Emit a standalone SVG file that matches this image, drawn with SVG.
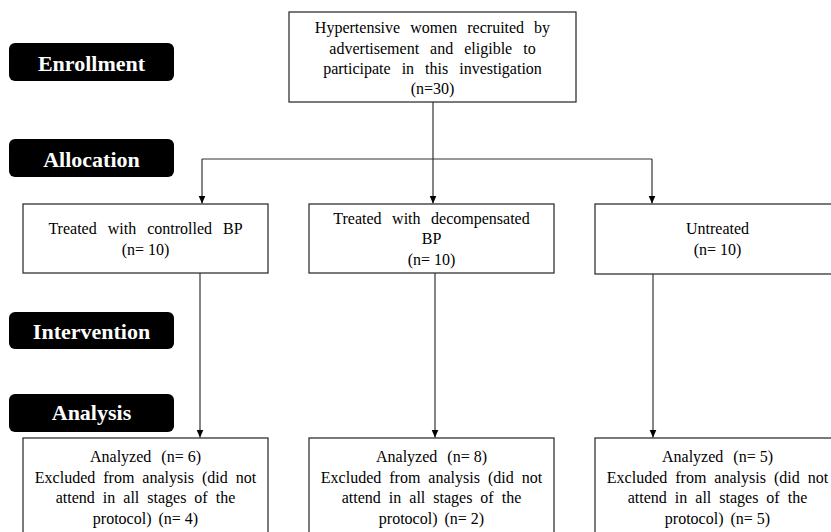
<svg xmlns="http://www.w3.org/2000/svg" width="831" height="532" viewBox="0 0 831 532">
<style>
.bg{fill:#ffffff}
.stage rect{fill:#000000}
.stage text{fill:#ffffff;font-family:"Liberation Serif","Times New Roman",serif;font-weight:bold;font-size:22px;text-anchor:middle}
.node rect{fill:#ffffff;stroke:#333333;stroke-width:1.3}
.node text{fill:#000000;font-family:"Liberation Serif","Times New Roman",serif;font-size:16px;text-anchor:middle;word-spacing:5px}
.node text.n{word-spacing:0}
.conn path{fill:none;stroke:#333333;stroke-width:1.2}
</style>
<defs>
<marker id="arr" markerWidth="8" markerHeight="8" refX="8" refY="3.5" orient="auto" markerUnits="userSpaceOnUse">
<path d="M0,0 L8,3.5 L0,7 Z" fill="#000000"/>
</marker>
</defs>
<rect class="bg" x="0" y="0" width="831" height="532"/>

<g id="stage-enrollment" class="stage">
<rect x="9" y="43" width="165" height="38" rx="6"/>
<text x="91.5" y="70.5">Enrollment</text>
</g>
<g id="stage-allocation" class="stage">
<rect x="9" y="139" width="165" height="38" rx="6"/>
<text x="91.5" y="166.5">Allocation</text>
</g>
<g id="stage-intervention" class="stage">
<rect x="9" y="312" width="165" height="37" rx="6"/>
<text x="91.5" y="338.5">Intervention</text>
</g>
<g id="stage-analysis" class="stage">
<rect x="9" y="394" width="165" height="38" rx="6"/>
<text x="91.5" y="420">Analysis</text>
</g>

<g id="connectors" class="conn">
<path d="M433,102 V203.5" marker-end="url(#arr)"/>
<path d="M202,159 H652"/>
<path d="M202,159 V203.5" marker-end="url(#arr)"/>
<path d="M652,159 V203.5" marker-end="url(#arr)"/>
<path d="M200,273 V437.5" marker-end="url(#arr)"/>
<path d="M435,273 V437.5" marker-end="url(#arr)"/>
<path d="M653,274 V437.5" marker-end="url(#arr)"/>
</g>

<g id="node-recruited" class="node">
<rect x="289" y="12" width="287" height="90"/>
<text x="432.5" y="33" style="word-spacing:6px">Hypertensive women recruited by</text>
<text x="432.5" y="53.5" style="word-spacing:7px">advertisement and eligible to</text>
<text x="432.5" y="74" style="word-spacing:7px">participate in this investigation</text>
<text class="n" x="432.5" y="94">(n=30)</text>
</g>

<g id="node-controlled" class="node">
<rect x="23" y="204" width="245" height="69"/>
<text x="145.5" y="234" style="word-spacing:7px">Treated with controlled BP</text>
<text class="n" x="145.5" y="254.5">(n= 10)</text>
</g>
<g id="node-decompensated" class="node">
<rect x="309" y="204" width="245" height="69"/>
<text x="431.5" y="224" style="word-spacing:6.5px">Treated with decompensated</text>
<text class="n" x="431.5" y="244">BP</text>
<text class="n" x="431.5" y="264.5">(n= 10)</text>
</g>
<g id="node-untreated" class="node">
<rect x="595" y="204" width="245" height="70"/>
<text class="n" x="717.5" y="234">Untreated</text>
<text class="n" x="717.5" y="254.5">(n= 10)</text>
</g>

<g id="node-analysis-controlled" class="node">
<rect x="23" y="438" width="245" height="110"/>
<text class="n" x="145.5" y="462">Analyzed <tspan dx="6">(n= 6)</tspan></text>
<text x="145.5" y="482.5" style="word-spacing:4px">Excluded from analysis (did not</text>
<text x="145.5" y="503" style="word-spacing:4px">attend in all stages of the</text>
<text class="n" x="145.5" y="523.5">protocol) <tspan dx="3">(n= 4)</tspan></text>
</g>
<g id="node-analysis-decompensated" class="node">
<rect x="309" y="438" width="245" height="110"/>
<text class="n" x="431.5" y="462">Analyzed <tspan dx="6">(n= 8)</tspan></text>
<text x="431.5" y="482.5" style="word-spacing:4px">Excluded from analysis (did not</text>
<text x="431.5" y="503" style="word-spacing:4px">attend in all stages of the</text>
<text class="n" x="431.5" y="523.5">protocol) <tspan dx="3">(n= 2)</tspan></text>
</g>
<g id="node-analysis-untreated" class="node">
<rect x="595" y="438" width="245" height="110"/>
<text class="n" x="717.5" y="462">Analyzed <tspan dx="6">(n= 5)</tspan></text>
<text x="717.5" y="482.5" style="word-spacing:4px">Excluded from analysis (did not</text>
<text x="717.5" y="503" style="word-spacing:4px">attend in all stages of the</text>
<text class="n" x="717.5" y="523.5">protocol) <tspan dx="3">(n= 5)</tspan></text>
</g>
</svg>
